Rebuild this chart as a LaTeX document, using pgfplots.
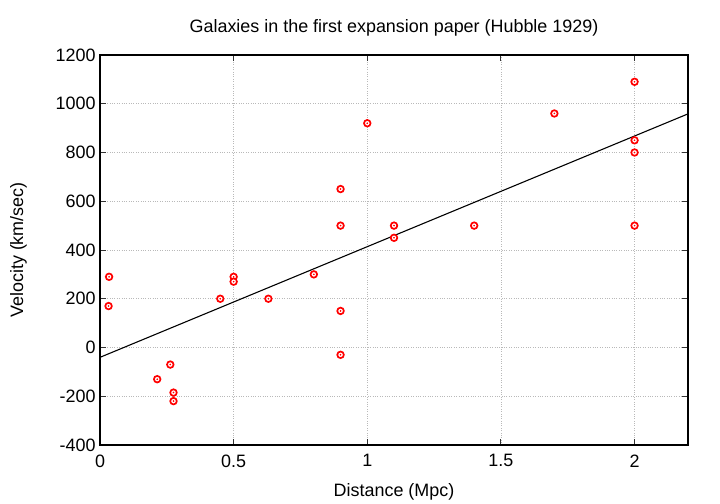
\documentclass[border=0pt]{standalone}
\usepackage{fontspec}
\setmainfont{Liberation Sans}
\usepackage{pgfplots}
\usepackage{pgfplotstable}
\pgfplotsset{compat=1.18}

% Hubble (1929): distance in Mpc, velocity in km/s
\pgfplotstableread{
d v
0.032 170
0.034 290
0.214 -130
0.263 -70
0.275 -185
0.275 -220
0.45 200
0.5 290
0.5 270
0.63 200
0.8 300
0.9 -30
0.9 650
0.9 150
0.9 500
1.0 920
1.1 450
1.1 500
1.4 500
1.7 960
2.0 500
2.0 850
2.0 800
2.0 1090
}\hubble

\newcommand\chartfont{\fontsize{18}{21}\selectfont}

\begin{document}
\begin{tikzpicture}[x=1bp,y=1bp]
\path[use as bounding box] (0,0) rectangle (720,504);
\begin{axis}[
    at={(100bp,59bp)}, anchor=south west,
    scale only axis, width=588bp, height=390bp,
    xmin=0, xmax=2.2, ymin=-400, ymax=1200,
    xtick={0,0.5,1,1.5,2},
    ytick={-400,-200,0,200,400,600,800,1000,1200},
    tick align=inside, major tick length=6bp,
    tick style={black!80, line width=0.9pt},
    axis line style={line width=1.5pt},
    grid=major,
    major grid style={gray!55, dotted, line width=0.7pt},
    /pgf/number format/assume math mode=true,
    /pgf/number format/1000 sep={},
    ticklabel style={font=\chartfont},
    xticklabel style={yshift=-6bp},
    yticklabel style={xshift=-1bp},
    title={Galaxies in the first expansion paper (Hubble 1929)},
    title style={font=\chartfont, yshift=9bp},
    xlabel={Distance (Mpc)},
    ylabel={Velocity (km/sec)},
    label style={font=\chartfont},
    xlabel style={yshift=-9bp},
    ylabel style={yshift=22bp},
]
\addplot[black, line width=1.1pt] coordinates {(0,-40.4) (2.2,958.4)};
\addplot[only marks, mark=*, mark size=3.3bp,
    mark options={draw=red, fill=white, line width=1.7pt}] table[x=d, y=v] {\hubble};
\addplot[only marks, mark=*, mark size=0.6bp,
    mark options={draw=red, fill=red}] table[x=d, y=v] {\hubble};
\end{axis}
\end{tikzpicture}
\end{document}
